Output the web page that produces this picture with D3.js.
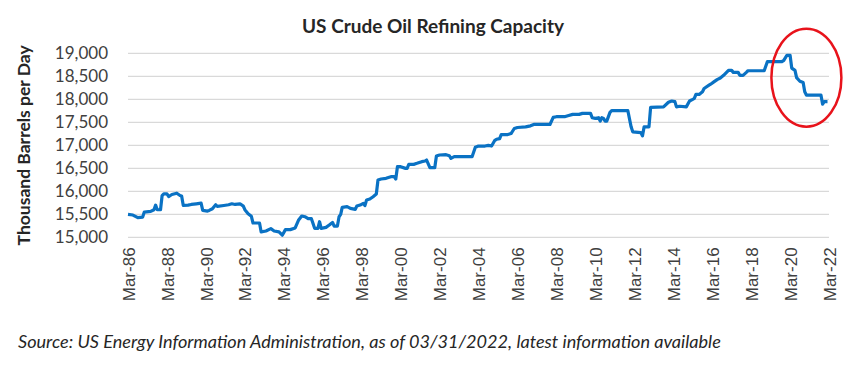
<!DOCTYPE html>
<html>
<head>
<meta charset="utf-8">
<script src="https://cdn.jsdelivr.net/npm/d3@7"></script>
<style>
  html, body { margin: 0; padding: 0; background: #fff; }
  svg { display: block; }
</style>
</head>
<body>
<div id="root"></div>
<script>
const width = 864, height = 371;

// monthly capacity readings (only where the line changes)
const months = [
  "1986-03","1986-06","1986-09","1986-12","1987-01","1987-05","1987-07","1987-08","1987-09","1987-11",
  "1987-12","1988-01","1988-03","1988-04","1988-06","1988-09","1988-11","1988-12","1989-01","1989-04",
  "1989-06","1989-09","1989-12","1990-01","1990-04","1990-05","1990-07","1990-09","1990-10","1991-02",
  "1991-05","1991-07","1991-09","1991-12","1992-02","1992-03","1992-05","1992-07","1992-08","1992-12",
  "1993-01","1993-04","1993-07","1993-09","1993-12","1994-02","1994-04","1994-07","1994-10","1994-12",
  "1995-02","1995-04","1995-06","1995-08","1995-09","1995-10","1995-12","1996-01","1996-02","1996-05",
  "1996-07","1996-09","1996-10","1996-12","1997-01","1997-02","1997-03","1997-06","1997-08","1997-11",
  "1997-12","1998-02","1998-04","1998-05","1998-06","1998-08","1998-10","1998-12","1999-01","1999-03",
  "1999-06","1999-09","1999-11","1999-12","2000-01","2000-03","2000-06","2000-07","2000-08","2000-11",
  "2001-01","2001-04","2001-06","2001-07","2001-09","2001-12","2002-01","2002-03","2002-07","2002-09",
  "2002-10","2002-12","2003-05","2003-11","2004-01","2004-03","2004-07","2004-09","2004-11","2005-01",
  "2005-02","2005-04","2005-05","2005-09","2005-11","2006-01","2006-03","2006-08","2006-11","2007-01",
  "2007-11","2008-01","2008-03","2008-08","2008-10","2009-01","2009-05","2009-07","2009-12","2010-01",
  "2010-03","2010-05","2010-06","2010-07","2010-08","2010-09","2010-10","2010-12","2011-01","2011-11",
  "2012-01","2012-02","2012-07","2012-08","2012-09","2012-12","2013-01","2013-09","2013-12","2014-02",
  "2014-04","2014-05","2014-07","2014-11","2015-01","2015-03","2015-04","2015-05","2015-07","2015-09",
  "2015-10","2016-01","2016-02","2016-04","2016-06","2016-08","2016-10","2017-01","2017-03","2017-04",
  "2017-07","2017-08","2017-10","2017-12","2018-01","2018-11","2019-01","2019-10","2019-11","2020-01",
  "2020-03","2020-04","2020-06","2020-07","2020-09","2020-11","2020-12","2021-01","2021-03","2021-10",
  "2021-11","2021-12","2022-02"
];
const capacity = [
  15500,15486,15428,15442,15550,15565,15601,15701,15601,15601,
  15910,15946,15946,15888,15932,15960,15910,15900,15694,15701,
  15716,15730,15745,15586,15572,15586,15622,15709,15673,15694,
  15709,15730,15716,15730,15680,15601,15514,15457,15313,15313,
  15119,15140,15191,15140,15119,15047,15169,15169,15205,15371,
  15464,15449,15406,15406,15304,15196,15196,15341,15196,15217,
  15268,15326,15246,15246,15449,15500,15652,15667,15630,15609,
  15681,15703,15739,15690,15812,15833,15884,15942,16246,16268,
  16283,16319,16319,16268,16536,16536,16500,16500,16587,16587,
  16609,16645,16659,16681,16514,16514,16768,16790,16797,16775,
  16717,16754,16754,16754,16957,16985,16985,17000,16985,17110,
  17132,17146,17234,17234,17256,17366,17388,17402,17424,17454,
  17454,17607,17622,17622,17644,17673,17673,17695,17695,17600,
  17585,17600,17527,17600,17585,17527,17527,17717,17753,17753,
  17402,17293,17278,17205,17402,17402,17827,17836,17936,17964,
  17950,17836,17850,17836,17964,18000,18020,18107,18107,18164,
  18236,18307,18329,18379,18429,18464,18521,18629,18629,18586,
  18586,18521,18521,18586,18621,18621,18821,18821,18840,18957,
  18957,18679,18629,18471,18393,18364,18164,18093,18093,18093,
  17893,17950,17950
];

const yTicks = [15000, 15500, 16000, 16500, 17000, 17500, 18000, 18500, 19000];
const xTickYears = [1986,1988,1990,1992,1994,1996,1998,2000,2002,2004,2006,2008,2010,2012,2014,2016,2018,2020,2022];

// highlight ellipse around the recent drop
const highlightMonth = "2021-01";
const highlightValue = 18470;

const titleText = "US Crude Oil Refining Capacity";
const yTitle = "Thousand Barrels per Day";
const sourceText = "Source: US Energy Information Administration, as of 03/31/2022, latest information available";

const parse = d3.timeParse("%Y-%m");
const data = months.map((m, i) => ({ date: parse(m), value: capacity[i] }));

const x = d3.scaleTime()
  .domain([new Date(1986, 2, 1), new Date(2022, 2, 1)])
  .range([128, 829]);
const y = d3.scaleLinear()
  .domain([15000, 19000])
  .range([237.4, 53.3]);

const svg = d3.create("svg")
  .attr("width", width)
  .attr("height", height)
  .attr("viewBox", [0, 0, width, height]);

svg.append("rect").attr("width", width).attr("height", height).attr("fill", "#fff");

// gridlines
svg.append("g")
  .selectAll("line")
  .data(yTicks)
  .join("line")
  .attr("x1", x.range()[0])
  .attr("x2", x.range()[1])
  .attr("y1", (d) => y(d))
  .attr("y2", (d) => y(d))
  .attr("stroke", "#d9d9d9")
  .attr("stroke-width", 1.2);

// y axis
const yAxis = svg.append("g")
  .attr("transform", `translate(${x.range()[0]},0)`)
  .call(d3.axisLeft(y).tickValues(yTicks).tickFormat(d3.format(",")).tickSize(0).tickPadding(20));
yAxis.select(".domain").remove();
yAxis.selectAll("text")
  .attr("font-family", "Lato, 'Open Sans', sans-serif")
  .attr("font-size", 17)
  .attr("fill", "#404040");

// x axis
const xAxis = svg.append("g")
  .attr("transform", `translate(0,${y(15000)})`)
  .call(d3.axisBottom(x)
    .tickValues(xTickYears.map((yr) => new Date(yr, 2, 1)))
    .tickFormat(d3.timeFormat("%b-%y"))
    .tickSize(0));
xAxis.select(".domain").remove();
xAxis.selectAll("text")
  .attr("font-family", "'Liberation Sans', Arial, sans-serif")
  .attr("font-size", 17)
  .attr("fill", "#404040")
  .attr("transform", "rotate(-90)")
  .attr("text-anchor", "end")
  .attr("x", -10)
  .attr("y", 0)
  .attr("dy", "0.36em");

// line
const line = d3.line()
  .x((d) => x(d.date))
  .y((d) => y(d.value));

svg.append("path")
  .datum(data)
  .attr("fill", "none")
  .attr("stroke", "#0a72c4")
  .attr("stroke-width", 3.2)
  .attr("stroke-linejoin", "round")
  .attr("d", line);

// red ellipse
svg.append("ellipse")
  .attr("cx", x(parse(highlightMonth)))
  .attr("cy", y(highlightValue))
  .attr("rx", 35)
  .attr("ry", 49)
  .attr("fill", "none")
  .attr("stroke", "#e8131b")
  .attr("stroke-width", 2.5);

// title
svg.append("text")
  .attr("x", 433)
  .attr("y", 33)
  .attr("text-anchor", "middle")
  .attr("font-family", "Lato, 'Open Sans', sans-serif")
  .attr("font-weight", "bold")
  .attr("font-size", 19)
  .attr("fill", "#262626")
  .text(titleText);

// y title
svg.append("text")
  .attr("transform", `translate(30,${(y(15000) + y(19000)) / 2}) rotate(-90)`)
  .attr("text-anchor", "middle")
  .attr("font-family", "Lato, 'Open Sans', sans-serif")
  .attr("font-weight", "bold")
  .attr("font-size", 17.5)
  .attr("fill", "#262626")
  .text(yTitle);

// source
svg.append("text")
  .attr("x", 18)
  .attr("y", 348)
  .attr("font-family", "Lato, 'Open Sans', sans-serif")
  .attr("font-style", "italic")
  .attr("font-size", 18.1)
  .attr("fill", "#262626")
  .text(sourceText);

d3.select("#root").append(() => svg.node());
</script>
</body>
</html>
